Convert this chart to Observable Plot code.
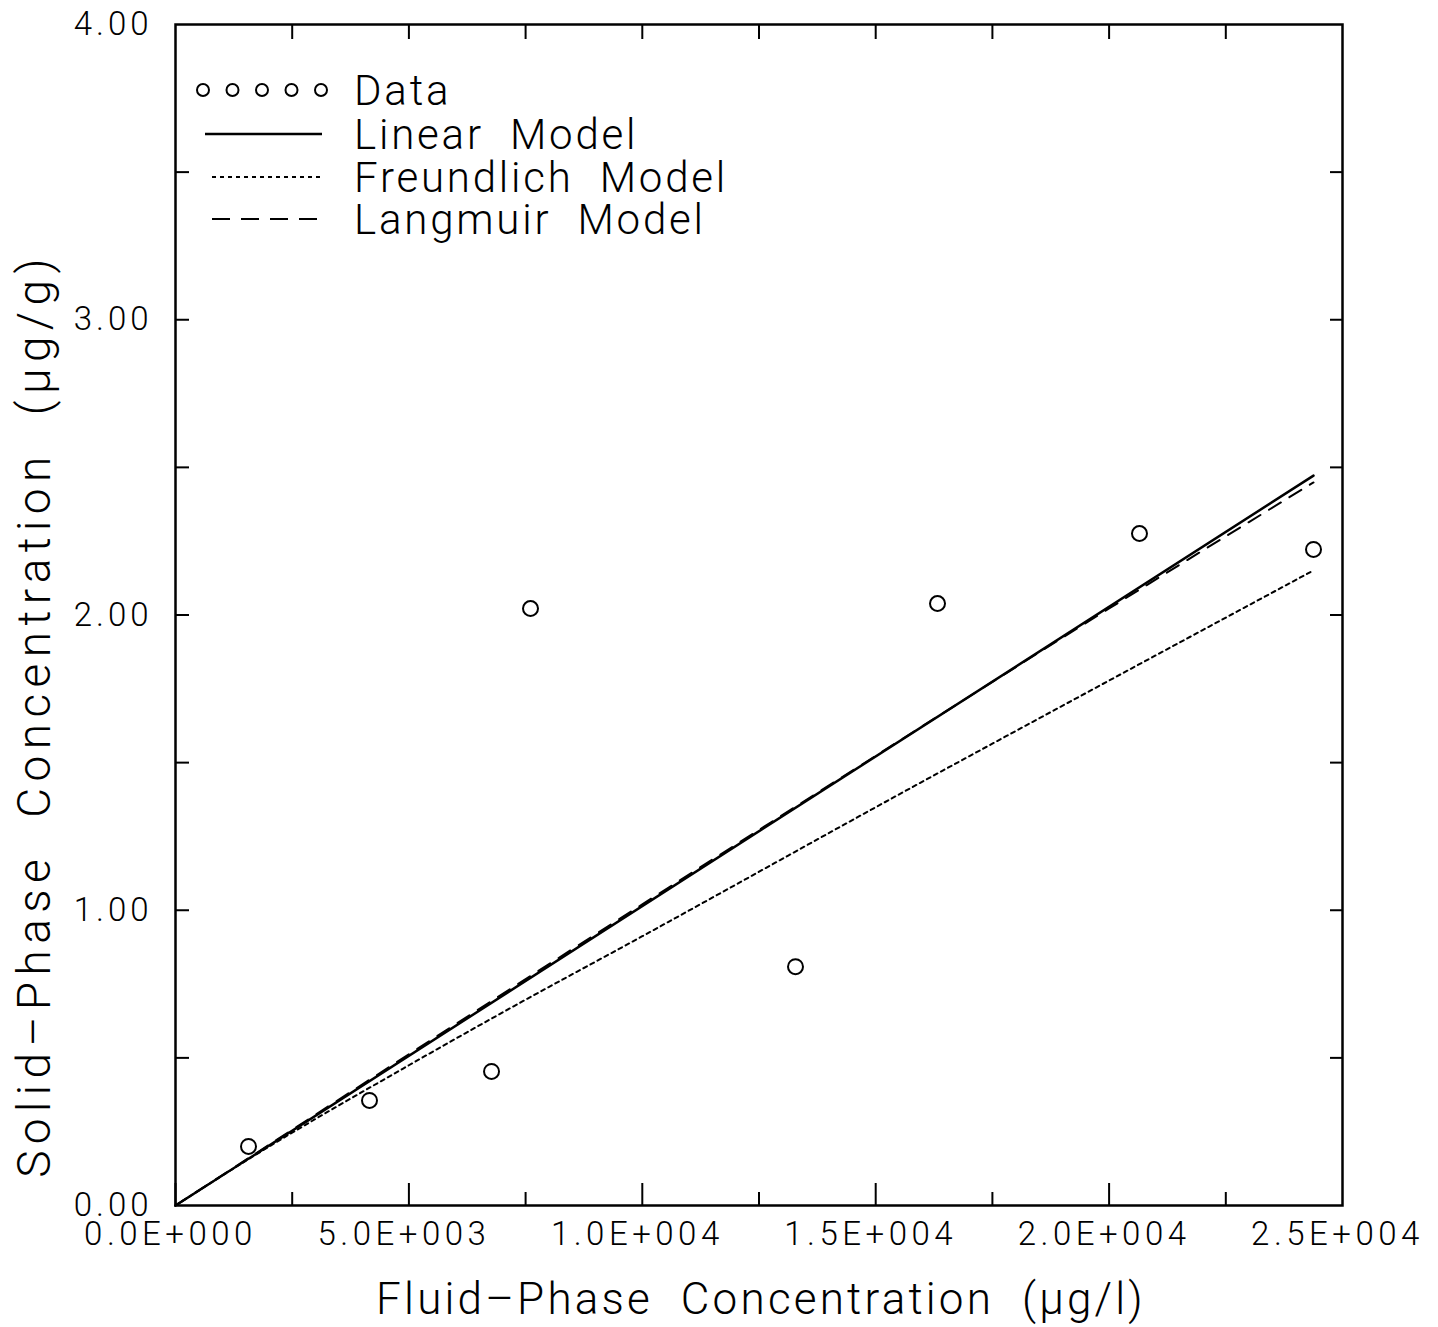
<!DOCTYPE html>
<html><head><meta charset="utf-8">
<script src="https://cdn.jsdelivr.net/npm/d3@7"></script>
<script src="https://cdn.jsdelivr.net/npm/@observablehq/plot@0.6"></script>
<style>
body{margin:0;background:#fff;}
#wrap{width:1438px;height:1327px;}
</style></head><body><div id="wrap"></div>
<script>
// Data
const dataX = [1564, 4156, 6770, 7605, 13282, 16324, 20651, 24379];
const dataY = [0.200, 0.356, 0.454, 2.022, 0.809, 2.039, 2.276, 2.222];
const linearX = [0, 24379];
const linearY = [0, 2.472];
const freundlichX = [0, 1564, 5000, 6962, 10000, 15531, 20000, 24379];
const freundlichY = [0, 0.157, 0.475, 0.650, 0.912, 1.395, 1.778, 2.151];
const langmuirX = [0, 5000, 10000, 15000, 20000, 24379];
const langmuirY = [0, 0.512, 1.020, 1.523, 2.022, 2.449];
const xMajorTicks = [0, 5000, 10000, 15000, 20000, 25000];
const xMinorTicks = [2500, 7500, 12500, 17500, 22500];
const xTopTicks = [2500, 5000, 7500, 10000, 12500, 15000, 17500, 20000, 22500];
const yTicks = [0.5, 1, 1.5, 2, 2.5, 3, 3.5];
const yLabelTicks = [0, 1, 2, 3, 4];
const legendLabels = ["Data", "Linear  Model", "Freundlich  Model", "Langmuir  Model"];
const xTitle = "Fluid\u2013Phase  Concentration  (\u03bcg/l)";
const yTitle = "Solid\u2013Phase  Concentration  (\u03bcg/g)";

const FONT = "Roboto, 'DejaVu Sans', sans-serif";
const points = dataX.map((x, i) => ({x, y: dataY[i]}));
const lin = linearX.map((x, i) => ({x, y: linearY[i]}));
const fre = freundlichX.map((x, i) => ({x, y: freundlichY[i]}));
const lan = langmuirX.map((x, i) => ({x, y: langmuirY[i]}));

const fmtX = d => {
  if (d === 0) return "0.0E+000";
  const e = Math.floor(Math.log10(d));
  return (d / 10 ** e).toFixed(1) + "E+" + String(e).padStart(3, "0");
};

const chart = Plot.plot({
  width: 1438, height: 1327,
  marginLeft: 175, marginRight: 96, marginTop: 24, marginBottom: 122,
  x: {domain: [0, 25000]},
  y: {domain: [0, 4]},
  style: {fontFamily: FONT, background: "white", color: "black"},
  marks: [
    Plot.axisX(xMajorTicks.slice(0, 5), {anchor: "bottom", tickSize: -22, tickFormat: () => "", strokeWidth: 2, label: null}),
    Plot.axisX(xMajorTicks, {anchor: "bottom", tickSize: 0, tickPadding: 16, dx: -5, tickFormat: fmtX, fontSize: 33, label: null}),
    Plot.axisX(xMinorTicks, {anchor: "bottom", tickSize: -13, tickFormat: () => "", strokeWidth: 2, label: null}),
    Plot.axisX(xTopTicks, {anchor: "top", tickSize: -14, tickFormat: () => "", strokeWidth: 2, label: null}),
    Plot.axisY(yLabelTicks, {anchor: "left", tickSize: 0, tickPadding: 23, tickFormat: d => d.toFixed(2), fontSize: 33, label: null}),
    Plot.axisY(yTicks, {anchor: "left", tickSize: -14, tickFormat: () => "", strokeWidth: 2, label: null}),
    Plot.axisY(yTicks, {anchor: "right", tickSize: -13, tickFormat: () => "", strokeWidth: 2, label: null}),
    Plot.frame({stroke: "black", strokeWidth: 2.5}),
    Plot.line(lin, {x: "x", y: "y", stroke: "black", strokeWidth: 2.5}),
    Plot.line(fre, {x: "x", y: "y", stroke: "black", strokeWidth: 2, strokeDasharray: "4,4", curve: "monotone-x"}),
    Plot.line(lan, {x: "x", y: "y", stroke: "black", strokeWidth: 2, strokeDasharray: "14,10", curve: "monotone-x"}),
    Plot.dot(points, {x: "x", y: "y", r: 7.5, stroke: "black", strokeWidth: 2, fill: "none"}),
    Plot.text([xTitle], {frameAnchor: "bottom", dy: 108, dx: 2, fontSize: 44, lineAnchor: "bottom", textAnchor: "middle"}),
    Plot.text([yTitle], {frameAnchor: "left", dx: -140, dy: 100, rotate: -90, fontSize: 46, textAnchor: "middle"})
  ]
});
document.getElementById("wrap").appendChild(chart);
const svg = d3.select(chart);
svg.attr("font-weight", 300);
svg.selectAll("text").each(function() {
  const t = this.textContent;
  const s = d3.select(this);
  if (t === xTitle) s.attr("letter-spacing", 3.2).style("white-space", "pre");
  else if (t === yTitle) s.attr("letter-spacing", 6.4).style("white-space", "pre");
  else if (/E\+/.test(t)) s.attr("letter-spacing", 4.5);
  else if (/^\d\.\d\d$/.test(t)) s.attr("letter-spacing", 4);
});

// Legend
const lg = svg.append("g").attr("fill", "none").attr("stroke", "black");
const rowY = [90, 134, 177, 219];
for (let i = 0; i < 5; i++) {
  lg.append("circle").attr("cx", 203 + i * 29.5).attr("cy", rowY[0]).attr("r", 6).attr("stroke-width", 2);
}
lg.append("line").attr("x1", 205).attr("x2", 322).attr("y1", rowY[1]).attr("y2", rowY[1]).attr("stroke-width", 2.5);
lg.append("line").attr("x1", 212).attr("x2", 322).attr("y1", rowY[2]).attr("y2", rowY[2]).attr("stroke-width", 2).attr("stroke-dasharray", "4,4");
lg.append("line").attr("x1", 212).attr("x2", 322).attr("y1", rowY[3]).attr("y2", rowY[3]).attr("stroke-width", 2).attr("stroke-dasharray", "18,11");
const lt = svg.append("g").attr("font-size", 42).attr("font-family", FONT).attr("letter-spacing", 2.8)
  .attr("fill", "black").attr("text-anchor", "start");
legendLabels.forEach((t, i) => {
  lt.append("text").attr("x", 354).attr("y", rowY[i] + 15).style("white-space", "pre").text(t);
});
</script></body></html>
